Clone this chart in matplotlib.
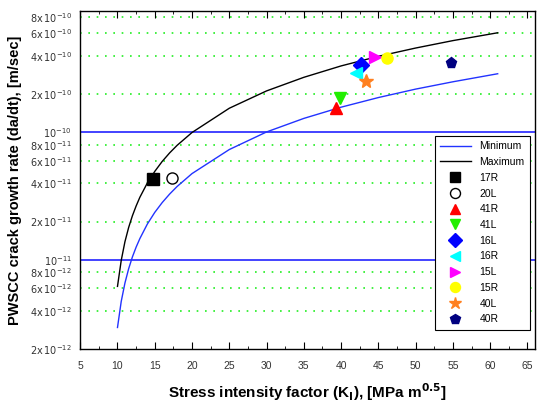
import math
import matplotlib
matplotlib.use("Agg")
import matplotlib.pyplot as plt
from matplotlib.ticker import FixedLocator, MultipleLocator, NullFormatter

plt.rcParams['font.family'] = ['Liberation Sans', 'DejaVu Sans']

# curves
k_curve = [10, 10.5, 11, 11.5, 12, 12.5, 13, 14, 15, 16, 17, 18, 20, 25, 30, 35, 40, 45, 50, 55, 61]
rate_max = [6.2e-12, 9.9e-12, 1.39e-11, 1.80e-11, 2.22e-11, 2.65e-11, 3.10e-11, 4.01e-11, 4.95e-11,
            5.93e-11, 6.92e-11, 7.93e-11, 1.00e-10, 1.55e-10, 2.12e-10, 2.71e-10, 3.33e-10,
            3.96e-10, 4.60e-10, 5.26e-10, 6.06e-10]
rate_min = [2.95e-12, 4.72e-12, 6.59e-12, 8.54e-12, 1.055e-11, 1.26e-11, 1.47e-11, 1.91e-11,
            2.36e-11, 2.82e-11, 3.29e-11, 3.77e-11, 4.76e-11, 7.35e-11, 1.01e-10, 1.29e-10,
            1.58e-10, 1.88e-10, 2.19e-10, 2.50e-10, 2.89e-10]

# measured points
labels = ['17R', '20L', '41R', '41L', '16L', '16R', '15L', '15R', '40L', '40R']
k_pts = [14.8, 17.3, 39.3, 39.8, 42.6, 42.0, 44.6, 46.1, 43.3, 54.7]
rate_pts = [4.3e-11, 4.43e-11, 1.57e-10, 1.86e-10, 3.37e-10, 2.95e-10, 3.92e-10, 3.87e-10, 2.52e-10, 3.52e-10]
markers = ['s', 'o', '^', 'v', 'D', '<', '>', 'o', '*', 'p']
colors = ['black', 'white', 'red', '#22ee00', 'blue', 'cyan', 'magenta', 'yellow', '#ff8020', '#000080']

ref_lines = [1e-10, 1e-11]

fig = plt.figure(figsize=(5.42, 4.03), dpi=100)
ax = fig.add_axes([0.148, 0.134, 0.839, 0.839])

ax.set_yscale('log')
ax.set_xlim(5, 66)
ax.set_ylim(2e-12, 9e-10)

# green dotted grid at the minor decades
grid_vals = [m * 10.0 ** e for e in (-12, -11, -10) for m in (2, 4, 6, 8)]
for g in grid_vals:
    if 2e-12 < g < 9e-10:
        ax.axhline(g, color='#22ee22', linestyle=(0, (1, 4)), linewidth=1.2, zorder=1)
for r in ref_lines:
    ax.axhline(r, color='#2222ff', linewidth=1.2, zorder=2)

ax.plot(k_curve, rate_min, color='#2233ff', linewidth=1.0, label='Minimum', zorder=3)
ax.plot(k_curve, rate_max, color='black', linewidth=1.0, label='Maximum', zorder=3)

for lab, k, r, m, c in zip(labels, k_pts, rate_pts, markers, colors):
    size = 10 if m == '*' else 8
    ax.plot([k], [r], linestyle='none', marker=m, markersize=size, color=c,
            markeredgecolor='black' if c == 'white' else c, label=lab, zorder=4)

# y ticks
ytick_vals = [2e-12, 4e-12, 6e-12, 8e-12, 1e-11, 2e-11, 4e-11, 6e-11, 8e-11,
              1e-10, 2e-10, 4e-10, 6e-10, 8e-10]
ytick_text = []
for v in ytick_vals:
    e = math.floor(math.log10(v) + 1e-9)
    m = round(v / 10 ** e)
    if m == 1:
        ytick_text.append(r'$10^{%d}$' % e)
    else:
        ytick_text.append(r'$%d\mathrm{x}\,10^{%d}$' % (m, e))
ax.yaxis.set_major_locator(FixedLocator(ytick_vals))
ax.set_yticklabels(ytick_text)
ax.yaxis.set_minor_formatter(NullFormatter())
ax.yaxis.set_minor_locator(FixedLocator([]))
ax.tick_params(axis='y', which='major', length=0, labelsize=7, labelcolor='#333333', pad=6)

ax.xaxis.set_major_locator(MultipleLocator(5))
ax.xaxis.set_minor_locator(MultipleLocator(2.5))
ax.tick_params(axis='x', which='both', direction='in', top=True, labelsize=7.5,
               labelcolor='#333333', pad=9)
ax.tick_params(axis='x', which='major', length=5)
ax.tick_params(axis='x', which='minor', length=2.5)

ax.set_xlabel(r'Stress intensity factor (K$_\mathbf{I}$), [MPa m$^\mathbf{0.5}$]',
              fontsize=11, fontweight='bold', labelpad=7)
ax.set_ylabel('PWSCC crack growth rate (da/dt), [m/sec]', fontsize=10.5,
              fontweight='bold', labelpad=6)

for s in ax.spines.values():
    s.set_linewidth(1.0)

leg = ax.legend(loc='upper right', bbox_to_anchor=(1.0, 0.645), fontsize=7.5,
                fancybox=False, edgecolor='black', framealpha=1, borderpad=0.5,
                handlelength=3.0, labelspacing=0.55, markerscale=0.9)
leg.get_frame().set_linewidth(0.8)

fig.savefig('out.png', dpi=100)
